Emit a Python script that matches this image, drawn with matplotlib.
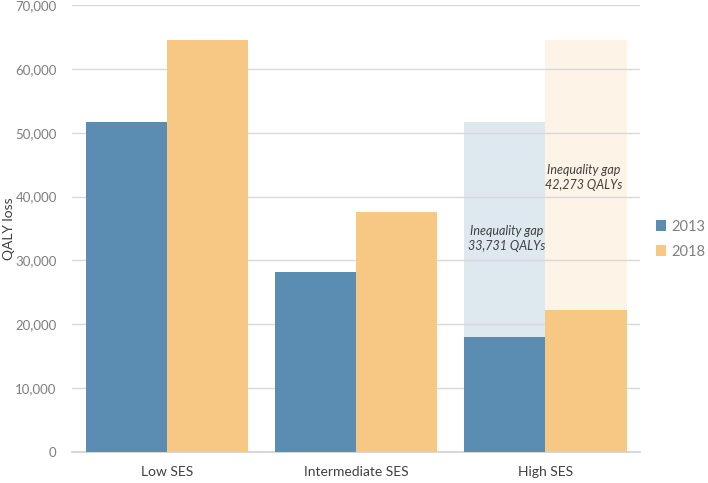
import numpy as np
import matplotlib
matplotlib.use("Agg")
import matplotlib.pyplot as plt
from matplotlib.ticker import FuncFormatter

plt.rcParams['font.family'] = ['Lato', 'DejaVu Sans']

# data
groups = ["Low SES", "Intermediate SES", "High SES"]
years = ["2013", "2018"]
loss_2013 = [51700, 28200, 17969]
loss_2018 = [64500, 37600, 22227]
gap_2013 = 33731
gap_2018 = 42273

blue = "#5b8db3"
orange = "#f7c784"
grey_txt = "#7f7f7f"

fig = plt.figure(figsize=(7.08, 4.83), dpi=100)
ax = fig.add_axes([0.1017, 0.064, 0.8023, 0.9256])

x = np.arange(len(groups))
w = 0.4286

# shaded gap bars behind the High SES bars
ax.bar(x[2] - w / 2, loss_2013[0], w, color=blue, alpha=0.2, linewidth=0, zorder=1)
ax.bar(x[2] + w / 2, loss_2018[0], w, color=orange, alpha=0.2, linewidth=0, zorder=1)

ax.bar(x - w / 2, loss_2013, w, color=blue, linewidth=0, label=years[0], zorder=3)
ax.bar(x + w / 2, loss_2018, w, color=orange, linewidth=0, label=years[1], zorder=3)

ax.text(x[2] - w / 2 + 0.01, 33500, "Inequality gap\n{:,} QALYs".format(gap_2013),
        ha="center", va="center", style="italic", fontsize=9, color="#404040",
        linespacing=1.3, zorder=4)
ax.text(x[2] + w / 2 - 0.01, 43000, "Inequality gap\n{:,} QALYs".format(gap_2018),
        ha="center", va="center", style="italic", fontsize=9, color="#404040",
        linespacing=1.3, zorder=4)

ax.set_xlim(-0.5, 2.5)
ax.set_ylim(0, 70000)
ax.set_yticks(np.arange(0, 70001, 10000))
ax.yaxis.set_major_formatter(FuncFormatter(lambda v, p: "{:,.0f}".format(v)))
ax.set_xticks(x)
ax.set_xticklabels(groups, fontsize=10, color="#404040")
ax.tick_params(axis="y", length=0, pad=11, labelsize=9.5, labelcolor=grey_txt)
ax.tick_params(axis="x", length=0, pad=10)
ax.grid(axis="y", color="#d9d9d9", linewidth=1, zorder=2)
ax.set_axisbelow(False)
for s in ["top", "right", "left"]:
    ax.spines[s].set_visible(False)
ax.spines["bottom"].set_color("#d0d0d0")
ax.spines["bottom"].set_linewidth(1.2)
ax.set_ylabel("QALY loss", fontsize=10, color="#404040")
ax.yaxis.set_label_coords(-0.1, 0.5)

fig.legend(loc="center left", bbox_to_anchor=(0.926, 0.505), frameon=False,
           fontsize=10.5, labelcolor=grey_txt, handlelength=0.7, handleheight=0.7,
           handletextpad=0.4, labelspacing=0.75, borderaxespad=0, borderpad=0)

fig.savefig("out.png", dpi=100)
